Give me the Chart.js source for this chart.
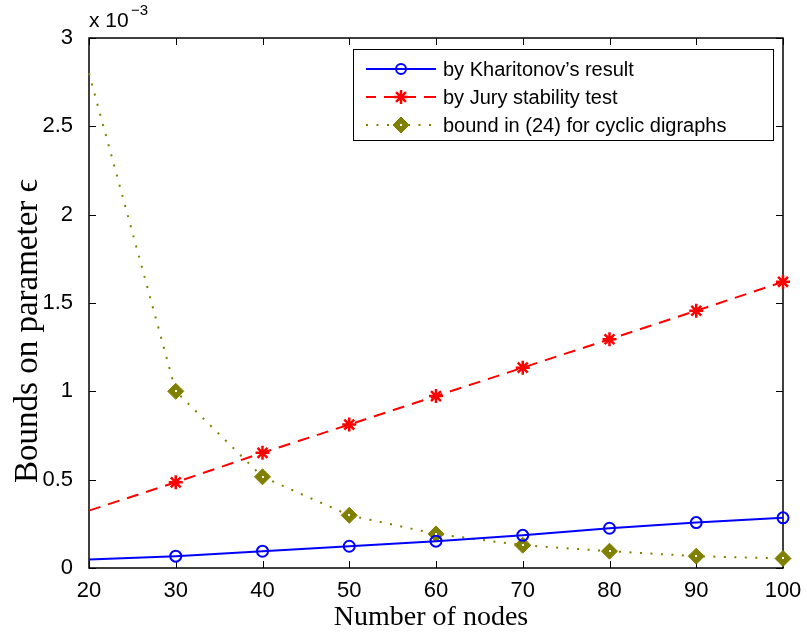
<!DOCTYPE html>
<html>
<head>
<meta charset="utf-8">
<script src="https://cdn.jsdelivr.net/npm/chart.js@4.4.1/dist/chart.umd.min.js"></script>
<style>
  html, body { margin: 0; padding: 0; background: #fff; }
  #wrap { width: 807px; height: 637px; position: relative; }
</style>
</head>
<body>
<div id="wrap"><canvas id="chart"></canvas></div>
<script>
// dados (eixo y em unidades de 10^-3)
const nodes = [20, 30, 40, 50, 60, 70, 80, 90, 100];
const kharitonov = [0.048, 0.067, 0.095, 0.123, 0.152, 0.185, 0.225, 0.257, 0.284];
const jury = [0.325, 0.485, 0.652, 0.812, 0.973, 1.134, 1.295, 1.456, 1.620];
const cyclicBound = [2.80, 1.00, 0.516, 0.298, 0.193, 0.129, 0.095, 0.067, 0.054];

const xTicks = [20, 30, 40, 50, 60, 70, 80, 90, 100];
const yTicks = [0, 0.5, 1, 1.5, 2, 2.5, 3];

const legendLabels = [
    'by Kharitonov\u2019s result',
    'by Jury stability test',
    'bound in (24) for cyclic digraphs'
];

const SANS = '"Liberation Sans", Arial, sans-serif';
const SERIF = '"Liberation Serif", "DejaVu Serif", serif';
const OLIVE = '#808000';

function pts(values) {
    return nodes.map((n, i) => ({ x: n, y: values[i] }));
}
// sem marcador no primeiro ponto (n = 20)
function radii(r) {
    return nodes.map((n, i) => (i === 0 ? 0 : r));
}

// moldura, ticks internos, rótulos e legenda
const matlabLook = {
    id: 'matlabLook',
    beforeDatasetsDraw(chart) {
        const { ctx, chartArea: a, scales } = chart;
        ctx.save();
        ctx.strokeStyle = '#000';
        ctx.lineWidth = 1;
        ctx.beginPath();
        xTicks.forEach(v => {
            const x = Math.round(scales.x.getPixelForValue(v)) + 0.5;
            ctx.moveTo(x, a.bottom); ctx.lineTo(x, a.bottom - 7);
            ctx.moveTo(x, a.top); ctx.lineTo(x, a.top + 7);
        });
        yTicks.forEach(v => {
            const y = Math.round(scales.y.getPixelForValue(v)) + 0.5;
            ctx.moveTo(a.left, y); ctx.lineTo(a.left + 7, y);
            ctx.moveTo(a.right, y); ctx.lineTo(a.right - 7, y);
        });
        ctx.stroke();
        ctx.lineWidth = 1.5;
        ctx.strokeRect(a.left, a.top, a.right - a.left, a.bottom - a.top);
        ctx.restore();
    },
    afterDatasetsDraw(chart) {
        const { ctx } = chart;
        ctx.save();

        // pontinho branco no centro dos losangos
        ctx.fillStyle = '#fff';
        chart.getDatasetMeta(2).data.forEach((p, i) => {
            if (i > 0) ctx.fillRect(Math.round(p.x) - 1, Math.round(p.y) - 1, 2, 2);
        });

        // rótulos dos eixos
        ctx.fillStyle = '#000';
        ctx.font = '28px ' + SERIF;
        ctx.textAlign = 'center';
        ctx.textBaseline = 'alphabetic';
        ctx.fillText('Number of nodes', 431, 625);

        ctx.save();
        ctx.translate(37, 331);
        ctx.rotate(-Math.PI / 2);
        ctx.font = '33px ' + SERIF;
        ctx.fillText('Bounds on parameter \u03f5', 0, 0);
        ctx.restore();

        // multiplicador  x 10^-3
        ctx.textAlign = 'left';
        ctx.font = '21px ' + SANS;
        ctx.fillText('x 10', 89, 27);
        ctx.font = '15px ' + SANS;
        ctx.fillText('\u22123', 131, 15);

        // legenda
        const bx = 353, by = 49, bw = 420, bh = 91;
        ctx.fillStyle = '#fff';
        ctx.fillRect(bx, by, bw, bh);
        ctx.strokeStyle = '#000';
        ctx.lineWidth = 1;
        ctx.strokeRect(bx + 0.5, by + 0.5, bw, bh);

        const rowsY = [69, 97, 125];
        chart.data.datasets.slice(0, 3).forEach((ds, i) => {
            const y = rowsY[i];
            ctx.save();
            ctx.strokeStyle = ds.borderColor;
            ctx.lineWidth = ds.borderWidth;
            ctx.setLineDash(ds.borderDash || []);
            ctx.lineDashOffset = ds.legendDashOffset || 0;
            ctx.beginPath();
            ctx.moveTo(366, y); ctx.lineTo(436, y);
            ctx.stroke();
            ctx.restore();

            ctx.save();
            ctx.strokeStyle = ds.pointBorderColor;
            ctx.fillStyle = ds.pointBackgroundColor;
            ctx.lineWidth = ds.pointBorderWidth;
            Chart.helpers.drawPoint(ctx, {
                pointStyle: ds.pointStyle,
                radius: ds.legendRadius,
                rotation: 0,
                borderWidth: ds.pointBorderWidth
            }, 401, y);
            ctx.restore();
            if (i === 2) {
                ctx.fillStyle = '#fff';
                ctx.fillRect(400, y - 1, 2, 2);
            }

            ctx.fillStyle = '#000';
            ctx.font = '20px ' + SANS;
            ctx.textAlign = 'left';
            ctx.textBaseline = 'middle';
            ctx.fillText(legendLabels[i], 443, y + 1);
        });
        ctx.restore();
    }
};

new Chart(document.getElementById('chart'), {
    type: 'line',
    data: {
        datasets: [
            {
                label: legendLabels[0],
                data: pts(kharitonov),
                borderColor: '#0000ff',
                borderWidth: 2,
                pointStyle: 'circle',
                pointRadius: radii(5.5),
                legendRadius: 5,
                pointBorderWidth: 2,
                pointBorderColor: '#0000ff',
                pointBackgroundColor: 'rgba(0,0,0,0)',
                tension: 0,
                clip: false
            },
            {
                label: legendLabels[1],
                data: pts(jury),
                borderColor: '#ff0000',
                borderWidth: 2,
                borderDash: [12, 8],
                legendDashOffset: 2,
                pointStyle: 'star',
                pointRadius: radii(7),
                legendRadius: 7,
                pointBorderWidth: 2.5,
                pointBorderColor: '#ff0000',
                pointBackgroundColor: '#ff0000',
                tension: 0,
                clip: false
            },
            {
                label: legendLabels[2],
                data: pts(cyclicBound),
                borderColor: OLIVE,
                borderWidth: 2,
                borderDash: [2, 8.5],
                pointStyle: 'rectRot',
                pointRadius: radii(8),
                legendRadius: 8,
                pointBorderWidth: 1,
                pointBorderColor: OLIVE,
                pointBackgroundColor: OLIVE,
                tension: 0,
                clip: false
            }
        ]
    },
    options: {
        responsive: true,
        maintainAspectRatio: false,
        animation: false,
        events: [],
        layout: { padding: { left: 0, top: 38, right: 24, bottom: 0 } },
        plugins: {
            legend: { display: false },
            tooltip: { enabled: false }
        },
        scales: {
            x: {
                type: 'linear',
                min: 20,
                max: 100,
                afterFit: s => { s.height = 69; },
                afterBuildTicks: s => { s.ticks = xTicks.map(v => ({ value: v })); },
                grid: { display: false },
                border: { display: false },
                ticks: {
                    color: '#000',
                    padding: 2,
                    maxRotation: 0,
                    font: { family: SANS, size: 22 }
                }
            },
            y: {
                min: 0,
                max: 3,
                afterFit: s => { s.width = 89; },
                afterBuildTicks: s => { s.ticks = yTicks.map(v => ({ value: v })); },
                grid: { display: false },
                border: { display: false },
                ticks: {
                    color: '#000',
                    padding: 8,
                    font: { family: SANS, size: 22 },
                    callback: v => String(v)
                }
            }
        }
    },
    plugins: [matlabLook]
});
</script>
</body>
</html>
